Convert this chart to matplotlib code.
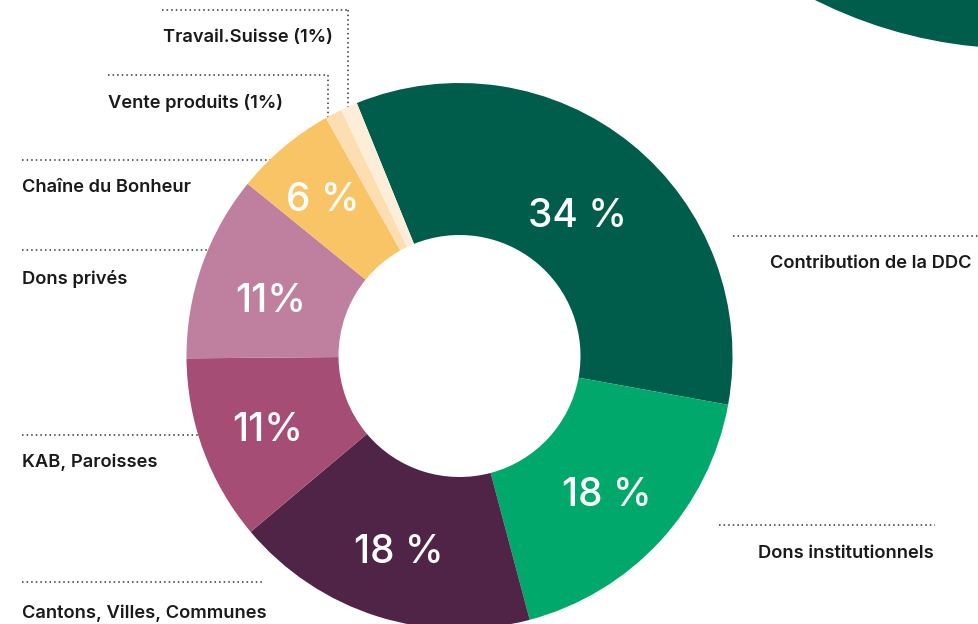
import numpy as np
import matplotlib
matplotlib.use("Agg")
import matplotlib.pyplot as plt
from matplotlib.patches import Circle

# =============================
# DATA
# =============================

labels = ["Contribution de la DDC", "Dons institutionnels", "Cantons, Villes, Communes",
          "KAB, Paroisses", "Dons privés", "Chaîne du Bonheur",
          "Vente produits (1%)", "Travail.Suisse (1%)"]
shares = [34, 18, 18, 11, 11, 6, 1, 1]
pct_text = ["34 %", "18 %", "18 %", "11%", "11%", "6 %", None, None]
colors = ["#005c4b", "#00a96b", "#4f2447", "#a64d75", "#be809e",
          "#f9c465", "#fddeb0", "#feeed9"]

# =============================
# SETTINGS (pixel-like coords, y up)
# =============================

W, H = 979, 624
CX, CY = 459.5, H - 356
R_OUT, R_IN = 273, 121
TXT = "#1a1a1a"
FONT = ["Inter", "DejaVu Sans"]

# radial position and extra downward nudge (px) of each percentage label
pct_r = [187, 200, 202, 204, 200, 212, 0, 0]
pct_dy = [6, 4, 4, 4, 12, 7, 0, 0]

fig = plt.figure(figsize=(W / 100, H / 100), dpi=100)
ax = fig.add_axes([0, 0, 1, 1])

# decorative circle top right
ax.add_patch(Circle((1020, H + 407), 455, color="#005c4b", zorder=0))

wedges, _ = ax.pie(
    shares,
    colors=colors,
    startangle=112.1,
    counterclock=False,
    center=(CX, CY),
    radius=R_OUT,
    wedgeprops=dict(width=R_OUT - R_IN, linewidth=0),
)
for w in wedges:
    w.set_zorder(3)

# percentage labels in the ring
angle = 112.1
for val, txt, rr, dy in zip(shares, pct_text, pct_r, pct_dy):
    span = val / sum(shares) * 360
    mid = np.deg2rad(angle - span / 2)
    angle -= span
    if txt is None:
        continue
    ax.text(CX + rr * np.cos(mid), CY + rr * np.sin(mid) - dy, txt,
            ha="center", va="center", color="white", fontsize=28,
            fontweight="medium", family=FONT, zorder=5)

# -----------------------------
# LEADER LINES + CATEGORY LABELS
# -----------------------------

dot = dict(color="#333333", linewidth=1.1, linestyle=(0, (1, 2)), zorder=1)


def py(y):
    return H - y


# label: (text x, text y, ha, line x0, line x1, line y, vertical end y or None)
layout = {
    "Travail.Suisse (1%)": (333, 38, "right", 162, 348, 10, 110),
    "Vente produits (1%)": (108, 103, "left", 108, 328, 75, 120),
    "Chaîne du Bonheur": (22, 187, "left", 22, 280, 160, None),
    "Dons privés": (22, 279, "left", 22, 215, 250, None),
    "KAB, Paroisses": (22, 462, "left", 22, 205, 435, None),
    "Cantons, Villes, Communes": (22, 613, "left", 22, 262, 582, None),
    "Contribution de la DDC": (972, 264, "right", 733, 979, 236, None),
    "Dons institutionnels": (934, 553, "right", 719, 935, 525, None),
}

for name in labels:
    tx, ty, ha, x0, x1, ly, vy = layout[name]
    ax.plot([x0, x1], [py(ly), py(ly)], **dot)
    if vy is not None:
        ax.plot([x1, x1], [py(ly), py(vy)], **dot)
    ax.text(tx, py(ty), name, ha=ha, va="center", color=TXT,
            fontsize=13.2, fontweight="semibold", family=FONT, zorder=6)

ax.set_xlim(0, W)
ax.set_ylim(0, H)
ax.set_aspect("equal")
ax.axis("off")

fig.savefig("out.png", dpi=100)
